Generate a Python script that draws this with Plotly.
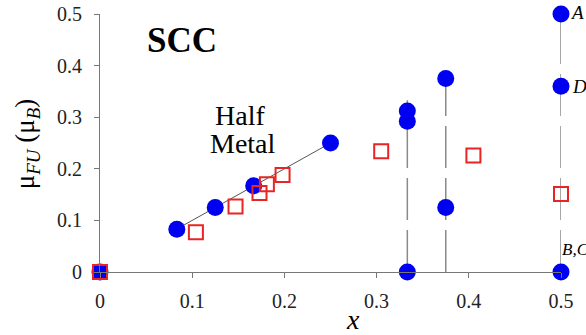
import plotly.graph_objects as go

# ---- data ----
circle_x = [0, 1/12, 0.125, 1/6, 0.25, 1/3, 1/3, 1/3, 0.375, 0.375, 0.5, 0.5, 0.5]
circle_y = [0, 0.083, 0.125, 0.167, 0.25, 0.312, 0.292, 0, 0.375, 0.125, 0.5, 0.36, 0]
square_x = [0, 0.104, 0.147, 0.173, 0.181, 0.198, 0.305, 0.405, 0.5]
square_y = [0, 0.077, 0.127, 0.153, 0.17, 0.188, 0.234, 0.226, 0.151]
halfmetal_x = [1/12, 0.25]
halfmetal_y = [1/12, 0.25]
vline_x = [1/3, 0.375, 0.5]
vline_top = [0.333, 0.375, 0.5]
tick_vals_x = [0, 0.1, 0.2, 0.3, 0.4, 0.5]
tick_text_x = ["0", "0.1", "0.2", "0.3", "0.4", "0.5"]
tick_vals_y = [0, 0.1, 0.2, 0.3, 0.4, 0.5]
tick_text_y = ["0", "0.1", "0.2", "0.3", "0.4", "0.5"]

SERIF = "Liberation Serif, Times New Roman, serif"
BLUE = "#0000F0"
RED = "#E82424"

fig = go.Figure()

for vx, vt in zip(vline_x, vline_top):
    fig.add_trace(go.Scatter(x=[vx, vx], y=[0, vt], mode="lines",
                             line=dict(color="#8a8a8a", width=1.5, dash="42px,10px"),
                             hoverinfo="skip", showlegend=False, cliponaxis=False))

fig.add_trace(go.Scatter(x=halfmetal_x, y=halfmetal_y, mode="lines",
                         line=dict(color="#555555", width=1),
                         showlegend=False, cliponaxis=False))

fig.add_trace(go.Scatter(x=circle_x, y=circle_y, mode="markers",
                         marker=dict(symbol="circle", size=17, color=BLUE, line=dict(width=0)),
                         showlegend=False, cliponaxis=False))

fig.add_trace(go.Scatter(x=square_x, y=square_y, mode="markers",
                         marker=dict(symbol="square-open", size=14, color=RED,
                                     line=dict(width=2, color=RED)),
                         showlegend=False, cliponaxis=False))

ann = []
ann.append(dict(text="<b>SCC</b>", xref="paper", yref="paper", x=0.178, y=0.899,
                xanchor="center", yanchor="middle", showarrow=False,
                font=dict(family=SERIF, size=35, color="black")))
ann.append(dict(text="Half", xref="paper", yref="paper", x=0.304, y=0.605,
                xanchor="center", yanchor="middle", showarrow=False,
                font=dict(family=SERIF, size=28, color="black")))
ann.append(dict(text="Metal", xref="paper", yref="paper", x=0.310, y=0.50,
                xanchor="center", yanchor="middle", showarrow=False,
                font=dict(family=SERIF, size=28, color="black")))
ann.append(dict(text="<i>A</i>", x=0.5, y=0.5, xanchor="left", yanchor="middle",
                xshift=7, yshift=2, showarrow=False,
                font=dict(family=SERIF, size=19, color="black")))
ann.append(dict(text="<i>D</i>", x=0.5, y=0.36, xanchor="left", yanchor="middle",
                xshift=9, yshift=0, showarrow=False,
                font=dict(family=SERIF, size=19, color="black")))
ann.append(dict(text="<i>B,C</i>", x=0.5, y=0, xanchor="left", yanchor="middle",
                xshift=-1, yshift=23, showarrow=False,
                font=dict(family=SERIF, size=17, color="black")))
ann.append(dict(text="μ<sub><i>FU</i></sub> (μ<sub><i>B</i></sub>)", xref="paper", yref="paper",
                x=-0.158, y=0.496, xanchor="center", yanchor="middle", textangle=-90,
                showarrow=False, font=dict(family=SERIF, size=27, color="black")))
ann.append(dict(text="<i>x</i>", xref="paper", yref="paper", x=0.549, y=-0.186,
                xanchor="center", yanchor="middle", showarrow=False,
                font=dict(family=SERIF, size=28, color="black")))

fig.update_layout(
    width=586, height=335,
    margin=dict(l=100, r=25, t=14, b=63, autoexpand=False),
    paper_bgcolor="white", plot_bgcolor="white",
    annotations=ann,
    xaxis=dict(range=[0, 0.5], tickvals=tick_vals_x, ticktext=tick_text_x,
               showgrid=False, zeroline=False, showline=True, linecolor="#777777",
               linewidth=1.2, ticks="outside", ticklen=5, tickcolor="#777777",
               ticklabelstandoff=6, automargin=False,
               tickfont=dict(family=SERIF, size=20, color="#222222")),
    yaxis=dict(range=[0, 0.5], tickvals=tick_vals_y, ticktext=tick_text_y,
               showgrid=False, zeroline=False, showline=True, linecolor="#777777",
               linewidth=1.2, ticks="outside", ticklen=5, tickcolor="#777777",
               ticklabelstandoff=8, automargin=False,
               tickfont=dict(family=SERIF, size=20, color="#222222")),
)

fig.write_html("out.html", config={"displayModeBar": False},
               post_script="document.body.style.margin='0';document.body.style.overflow='hidden';")
